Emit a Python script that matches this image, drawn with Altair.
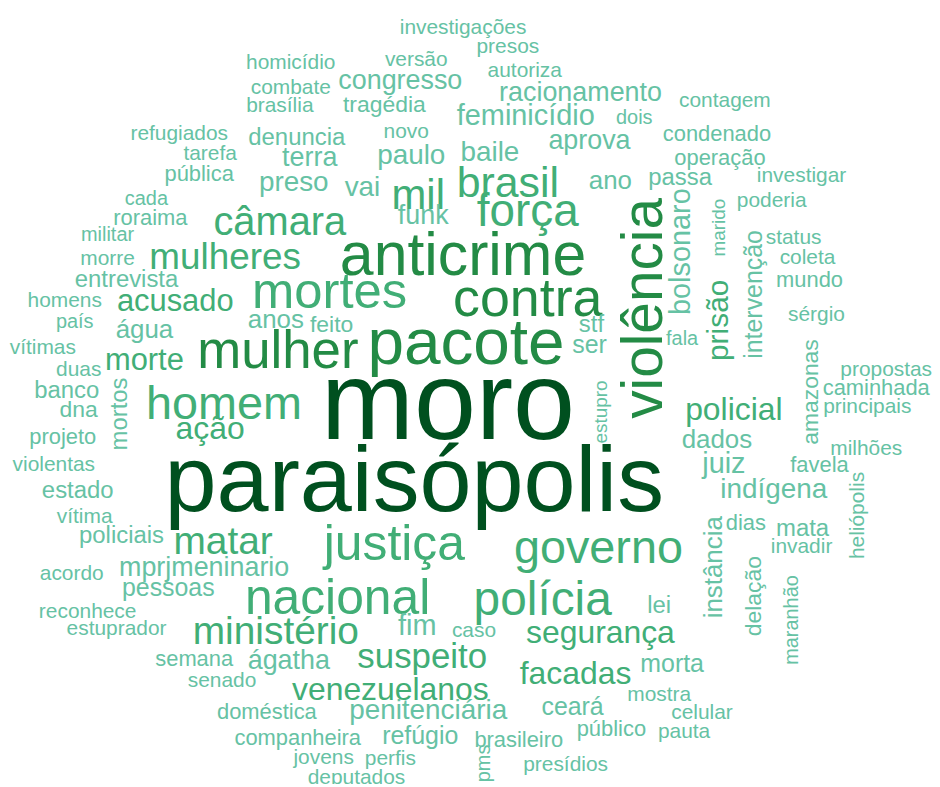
import altair as alt
import pandas as pd

# horizontal words: word, x, y (layout coords), frequency-driven font size
h_words = ["investigações","presos","homicídio","versão","autoriza","combate","congresso","racionamento",
           "brasília","tragédia","contagem","feminicídio","dois","refugiados","novo","denuncia","condenado",
           "aprova","tarefa","terra","paulo","baile","operação","pública","preso","vai","mil","brasil","ano",
           "passa","investigar","cada","roraima","câmara","força","funk","poderia","militar","mulheres",
           "anticrime","status","coleta","morre","entrevista","mundo","mortes","contra","homens","acusado",
           "sérgio","país","anos","feito","stf","água","fala","pacote","ser","vítimas","mulher","morte","duas",
           "propostas","caminhada","banco","moro","principais","homem","policial","dna","ação","projeto",
           "dados","milhões","juiz","favela","violentas","paraisópolis","indígena","estado","vítima","dias",
           "mata","policiais","matar","justiça","governo","invadir","mprjmeninario","acordo","pessoas",
           "nacional","polícia","lei","reconhece","fim","caso","estuprador","ministério","segurança","semana",
           "ágatha","suspeito","morta","facadas","senado","venezuelanos","mostra","ceará","penitenciária",
           "doméstica","celular","público","pauta","refúgio","companheira","brasileiro","jovens","perfis",
           "presídios","deputados"]
h_x = [465,510,292,418,527,292,402,583,281,386,728,528,637,180,408,298,720,592,211,311,413,492,723,200,295,
       364,420,510,613,683,805,147,151,281,530,425,775,108,226,465,797,811,108,127,813,331,530,65,176,820,75,
       277,333,594,145,685,468,592,43,279,145,79,890,880,67,450,871,225,737,79,211,63,720,870,727,823,54,416,
       777,78,85,749,806,122,224,396,601,805,205,72,169,339,545,662,88,419,476,117,277,603,195,290,424,675,
       578,223,392,662,575,430,268,705,614,687,422,299,521,325,392,568,358]
h_y = [26,46,62,59,70,87,80,92,105,104,100,115,117,133,131,137,133,140,153,157,155,152,157,173,182,187,195,
       183,180,177,175,198,217,222,211,215,200,234,257,256,237,257,258,280,280,293,300,301,302,315,322,320,
       325,325,330,339,344,345,348,352,361,370,370,388,391,405,407,405,410,410,429,437,440,449,464,465,465,
       483,490,491,518,524,530,537,543,546,550,548,569,575,589,600,602,607,613,627,632,630,633,634,660,662,
       658,665,675,682,691,696,708,712,713,714,730,733,738,740,742,760,761,767,780]
h_size = [21,21,21,21,21,21,27,27,21,23,21,29,20,21,21,24,22,27,21,27,28,28,22,22,28,28,42,43,26,24,21,20,
          22,40,46,27,21,20,37,61,21,21,21,24,22,51,54,21,31,21,20,26,23,24,26,20,66,25,21,53,31,21,21,22,
          24,112,21,47,32,23,32,22,26,21,29,22,21,94,28,24,21,22,24,24,39,50,47,21,27,21,25,50,48,24,21,29,
          21,21,39,32,22,27,35,25,32,21,32,21,25,28,22,21,22,21,25,22,22,21,21,21,21]

# vertical words (reading bottom to top)
v_words = ["marido","bolsonaro","intervenção","violência","prisão","amazonas","mortos","estupro",
           "heliópolis","instância","delação","maranhão","pms"]
v_x = [722,684,757,648,722,815,121,604,862,717,757,795,486]
v_y = [227,251,294,308,320,392,414,412,516,568,597,621,765]
v_size = [19,29,25,57,30,23,24,19,21,26,23,20,20]

palette = ["#66c2a4", "#41ae76", "#238b45", "#00501f"]

h_df = pd.DataFrame({"word": h_words, "x": h_x, "y": h_y, "size": h_size})
v_df = pd.DataFrame({"word": v_words, "x": v_x, "y": v_y, "size": v_size})

xs = alt.Scale(domain=[8, 936], nice=False, zero=False)
ys = alt.Scale(domain=[8, 784], nice=False, zero=False, reverse=True)
col = alt.Scale(type="threshold", domain=[30, 52, 90], range=palette)

def layer(df, angle):
    return alt.Chart(df).mark_text(
        font="Liberation Sans", baseline="middle", align="center", angle=angle
    ).encode(
        x=alt.X("x:Q", scale=xs, axis=None),
        y=alt.Y("y:Q", scale=ys, axis=None),
        text="word:N",
        size=alt.Size("size:Q", scale=None, legend=None),
        color=alt.Color("size:Q", scale=col, legend=None),
    )

chart = alt.layer(layer(h_df, 0), layer(v_df, 270)).properties(
    width=928, height=776, padding=0, autosize=alt.AutoSizeParams(type="none"),
    background="white"
).configure_view(stroke=None)

chart.save("out.html", embed_options={"renderer": "svg", "actions": False})
